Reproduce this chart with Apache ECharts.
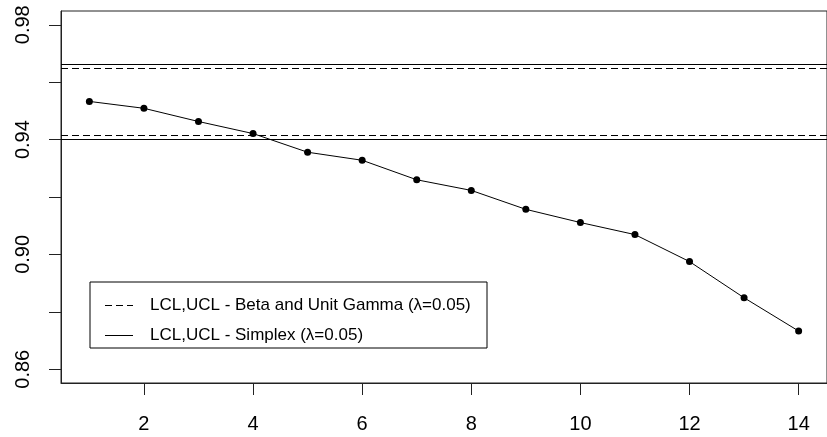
<!DOCTYPE html>
<html>
<head>
<meta charset="utf-8">
<title>EWMA control chart</title>
<script src="https://cdn.jsdelivr.net/npm/echarts@6/dist/echarts.min.js"></script>
<style>
  html, body { margin: 0; padding: 0; background: #fff; }
  #chart { width: 827px; height: 437px; }
</style>
</head>
<body>
<div id="chart"></div>
<script>
// Monitoring statistic by sample number
const samples = [1, 2, 3, 4, 5, 6, 7, 8, 9, 10, 11, 12, 13, 14];
const statistic = [0.9533, 0.9509, 0.9463, 0.9421, 0.9356, 0.9328, 0.9260,
                   0.9223, 0.9157, 0.9111, 0.9069, 0.8975, 0.8849, 0.8733];

// Control limits [LCL, UCL]
const limitsBetaGamma = [0.9415, 0.9649];
const limitsSimplex = [0.9401, 0.9661];

// Axis ticks and labels
const xTicks = [2, 4, 6, 8, 10, 12, 14];
const yTicks = [0.86, 0.88, 0.90, 0.92, 0.94, 0.96, 0.98];
const yLabels = [0.86, 0.90, 0.94, 0.98];

const nameBetaGamma = 'LCL,UCL - Beta and Unit Gamma (\u03bb=0.05)';
const nameSimplex = 'LCL,UCL - Simplex (\u03bb=0.05)';

const FONT = "'Liberation Sans', Arial, sans-serif";

// Legend keys: a dashed and a solid line segment
const ICON_DASHED = 'path://M0,0h7v1h-7z M11,0h7v1h-7z M22,0h6v1h-6z';
const ICON_SOLID = 'path://M0,0h28v1h-28z';

const chart = echarts.init(document.getElementById('chart'), null, { renderer: 'canvas' });

function limitLines(values) {
  return values.map(v => ({ yAxis: v }));
}

chart.setOption({
  animation: false,
  backgroundColor: '#fff',
  grid: {
    left: 61,
    top: 11,
    width: 770,
    height: 372,
    show: true,
    borderColor: '#222',
    borderWidth: 1,
    backgroundColor: 'transparent'
  },
  xAxis: {
    type: 'value',
    min: 0.48,
    max: 14.52,
    axisLine: { show: true, lineStyle: { color: '#222', width: 1 } },
    axisTick: {
      show: true, length: 12, customValues: xTicks,
      lineStyle: { color: '#222', width: 1 }
    },
    axisLabel: {
      customValues: xTicks,
      margin: 31,
      color: '#000',
      fontFamily: FONT,
      fontSize: 20
    },
    splitLine: { show: false }
  },
  yAxis: {
    type: 'value',
    min: 0.8552,
    max: 0.9848,
    axisLine: { show: true, lineStyle: { color: '#222', width: 1 } },
    axisTick: {
      show: true, length: 12, customValues: yTicks,
      lineStyle: { color: '#222', width: 1 }
    },
    axisLabel: {
      customValues: yLabels,
      rotate: 90,
      margin: 28,
      color: '#000',
      fontFamily: FONT,
      fontSize: 20,
      formatter: v => v.toFixed(2)
    },
    splitLine: { show: false }
  },
  legend: {
    orient: 'vertical',
    left: 90,
    top: 282,
    padding: [14, 14, 3, 15],
    itemWidth: 28,
    itemHeight: 1,
    itemGap: 11,
    borderColor: '#000',
    borderWidth: 1,
    backgroundColor: '#fff',
    selectedMode: false,
    itemStyle: { color: '#000' },
    data: [
      { name: nameBetaGamma, icon: ICON_DASHED },
      { name: nameSimplex, icon: ICON_SOLID }
    ],
    textStyle: {
      color: '#000',
      fontFamily: FONT,
      fontSize: 17,
      lineHeight: 19,
      width: 323,
      padding: [0, 0, 0, 12]
    }
  },
  series: [
    {
      name: 'statistic',
      type: 'line',
      data: samples.map((s, i) => [s, statistic[i]]),
      symbol: 'circle',
      symbolSize: 7,
      itemStyle: { color: '#000' },
      lineStyle: { color: '#000', width: 1 },
      z: 5
    },
    {
      name: nameBetaGamma,
      type: 'line',
      data: [],
      symbol: 'none',
      itemStyle: { color: '#000' },
      lineStyle: { color: '#000', width: 1, type: [7, 4] },
      markLine: {
        silent: true,
        precision: 4,
        symbol: ['none', 'none'],
        label: { show: false },
        lineStyle: { color: '#000', width: 1, type: [7, 4] },
        data: limitLines(limitsBetaGamma)
      }
    },
    {
      name: nameSimplex,
      type: 'line',
      data: [],
      symbol: 'none',
      itemStyle: { color: '#000' },
      lineStyle: { color: '#000', width: 1, type: 'solid' },
      markLine: {
        silent: true,
        precision: 4,
        symbol: ['none', 'none'],
        label: { show: false },
        lineStyle: { color: '#000', width: 1, type: 'solid' },
        data: limitLines(limitsSimplex)
      }
    }
  ]
});
</script>
</body>
</html>
